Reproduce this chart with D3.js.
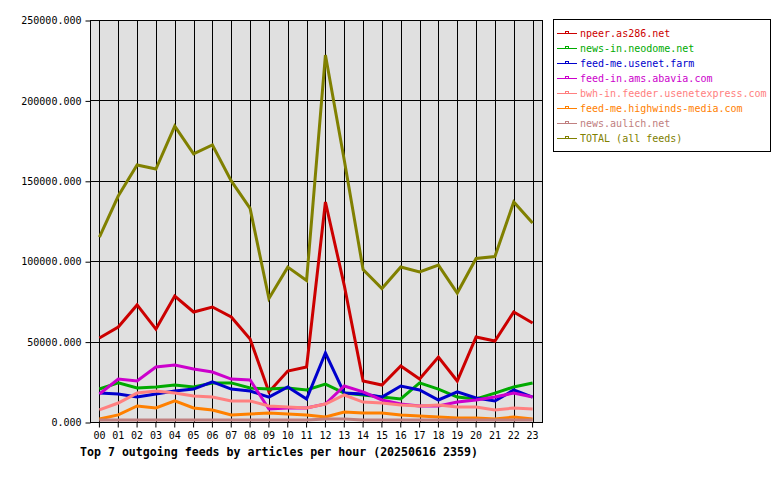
<!DOCTYPE html>
<html>
<head>
<meta charset="utf-8">
<script src="https://cdn.jsdelivr.net/npm/d3@7"></script>
<style>
  body { margin: 0; background: #fff; }
  text { font-family: "DejaVu Sans Mono", monospace; }
</style>
</head>
<body>
<svg id="chart" width="780" height="480"></svg>
<script>
// hours on the x axis
const hours = d3.range(24).map(h => String(h).padStart(2, '0'));

const feedNames = [
    'npeer.as286.net',
    'news-in.neodome.net',
    'feed-me.usenet.farm',
    'feed-in.ams.abavia.com',
    'bwh-in.feeder.usenetexpress.com',
    'feed-me.highwinds-media.com',
    'news.aulich.net',
    'TOTAL (all feeds)'
];
const feedColors = ['#cc0000', '#00aa00', '#0000cc', '#cc00cc', '#ff8080', '#ff8000', '#c08080', '#808000'];

// articles per hour
const npeer     = [52200, 59100, 72800, 57800, 78300, 68400, 71500, 65300, 51600, 18700, 31700, 34200, 136800, 85000, 25500, 23000, 34800, 26700, 40400, 25500, 52900, 50400, 68400, 61600];
const neodome   = [20500, 24300, 21100, 21800, 23000, 21800, 24300, 24300, 21100, 20500, 21100, 19900, 23600, 18000, 16800, 15500, 14300, 24300, 20500, 15500, 14300, 18000, 21800, 24300];
const usenetFarm= [18000, 17400, 15500, 17400, 19300, 20500, 24900, 20500, 19300, 15500, 21800, 14300, 42900, 18000, 17400, 15500, 22400, 19900, 13700, 18700, 14900, 13100, 19900, 15500];
const abavia    = [17400, 26700, 25500, 34200, 35400, 33000, 31100, 26700, 26100, 8100, 8700, 8700, 11200, 22400, 18700, 13700, 11200, 10000, 10000, 12400, 13700, 15500, 18000, 15500];
const usenetexp = [7500, 11800, 18000, 19300, 18000, 16200, 15500, 13100, 13100, 10000, 9300, 8700, 11200, 16800, 12400, 11800, 10600, 10000, 10600, 9300, 9300, 7500, 8700, 8100];
const highwinds = [1900, 4400, 10000, 8700, 13100, 8700, 7500, 4400, 5000, 5600, 5000, 4400, 3100, 6200, 5600, 5600, 4400, 3700, 3100, 2500, 2500, 1900, 3100, 1900];
const aulich    = [1200, 1200, 1200, 1200, 1200, 1200, 1200, 1200, 1200, 1200, 1200, 1200, 1800, 1900, 1300, 1200, 1200, 1200, 1200, 1200, 1200, 1200, 1200, 1200];
const total     = [115000, 140500, 159800, 157300, 184000, 166700, 172300, 149900, 132800, 76800, 96300, 88000, 228200, 163000, 94800, 83000, 96400, 93300, 97600, 80200, 101700, 102900, 136800, 123700];

const yTicks = [0, 50000, 100000, 150000, 200000, 250000];

const series = [npeer, neodome, usenetFarm, abavia, usenetexp, highwinds, aulich, total];

const svg = d3.select('#chart');
const plot = {left: 90, right: 542, top: 20, bottom: 422};

const x = d3.scaleBand()
    .domain(hours)
    .range([plot.left, plot.right]);
const y = d3.scaleLinear()
    .domain([0, 250000])
    .range([plot.bottom, plot.top]);
const cx = h => x(h) + x.bandwidth() / 2;

// plot background
svg.append('rect')
    .attr('x', plot.left).attr('y', plot.top)
    .attr('width', plot.right - plot.left).attr('height', plot.bottom - plot.top)
    .attr('fill', '#e0e0e0');

// grid
svg.append('g').selectAll('line')
    .data(hours)
    .join('line')
    .attr('x1', d => Math.round(cx(d)) + 0.5).attr('x2', d => Math.round(cx(d)) + 0.5)
    .attr('y1', plot.top).attr('y2', plot.bottom)
    .attr('stroke', '#000');
svg.append('g').selectAll('line')
    .data(yTicks)
    .join('line')
    .attr('x1', plot.left).attr('x2', plot.right)
    .attr('y1', d => Math.round(y(d)) + 0.5).attr('y2', d => Math.round(y(d)) + 0.5)
    .attr('stroke', '#000');

// lines
const line = d3.line()
    .x((d, i) => cx(hours[i]))
    .y(d => y(d));

svg.append('g').selectAll('path')
    .data(series)
    .join('path')
    .attr('d', d => line(d))
    .attr('fill', 'none')
    .attr('stroke', (d, i) => feedColors[i])
    .attr('stroke-width', 3)
    .attr('stroke-linejoin', 'miter');

// frame
svg.append('rect')
    .attr('x', plot.left + 0.5).attr('y', plot.top + 0.5)
    .attr('width', plot.right - plot.left).attr('height', plot.bottom - plot.top)
    .attr('fill', 'none').attr('stroke', '#000');

// y axis
const yAxis = svg.append('g')
    .attr('transform', `translate(${plot.left + 0.5},0.5)`)
    .call(d3.axisLeft(y).tickValues(yTicks).tickSize(5).tickPadding(4).tickFormat(d => d.toFixed(3)));
yAxis.select('.domain').remove();
yAxis.selectAll('line').attr('stroke', '#000').attr('stroke-width', 1);
yAxis.selectAll('text').attr('font-size', 10).attr('fill', '#000')
    .attr('font-family', '"DejaVu Sans Mono", monospace');

// x axis
const xAxis = svg.append('g')
    .attr('transform', `translate(0,${plot.bottom + 0.5})`)
    .call(d3.axisBottom(x).tickSize(5).tickPadding(4));
xAxis.select('.domain').remove();
xAxis.selectAll('line').attr('stroke', '#000');
xAxis.selectAll('text').attr('font-size', 10).attr('fill', '#000')
    .attr('font-family', '"DejaVu Sans Mono", monospace');

// title
svg.append('text')
    .attr('x', 80).attr('y', 456)
    .attr('font-size', 11.6).attr('font-weight', 'bold')
    .text('Top 7 outgoing feeds by articles per hour (20250616 2359)');

// legend
const legend = svg.append('g');
legend.append('rect')
    .attr('x', 553.5).attr('y', 19.5).attr('width', 217).attr('height', 132)
    .attr('fill', '#fff').attr('stroke', '#000');

const items = legend.selectAll('g.item')
    .data(feedNames)
    .join('g')
    .attr('class', 'item')
    .attr('transform', (d, i) => `translate(0,${33 + i * 15})`);
items.append('line')
    .attr('x1', 557).attr('x2', 577).attr('y1', 0.5).attr('y2', 0.5)
    .attr('stroke', (d, i) => feedColors[i]);
items.append('rect')
    .attr('x', 565.5).attr('y', -1.5).attr('width', 3).attr('height', 2)
    .attr('fill', '#fff')
    .attr('stroke', (d, i) => feedColors[i]);
items.append('text')
    .attr('x', 580).attr('y', 4)
    .attr('font-size', 10)
    .attr('fill', (d, i) => feedColors[i])
    .text(d => d);
</script>
</body>
</html>
